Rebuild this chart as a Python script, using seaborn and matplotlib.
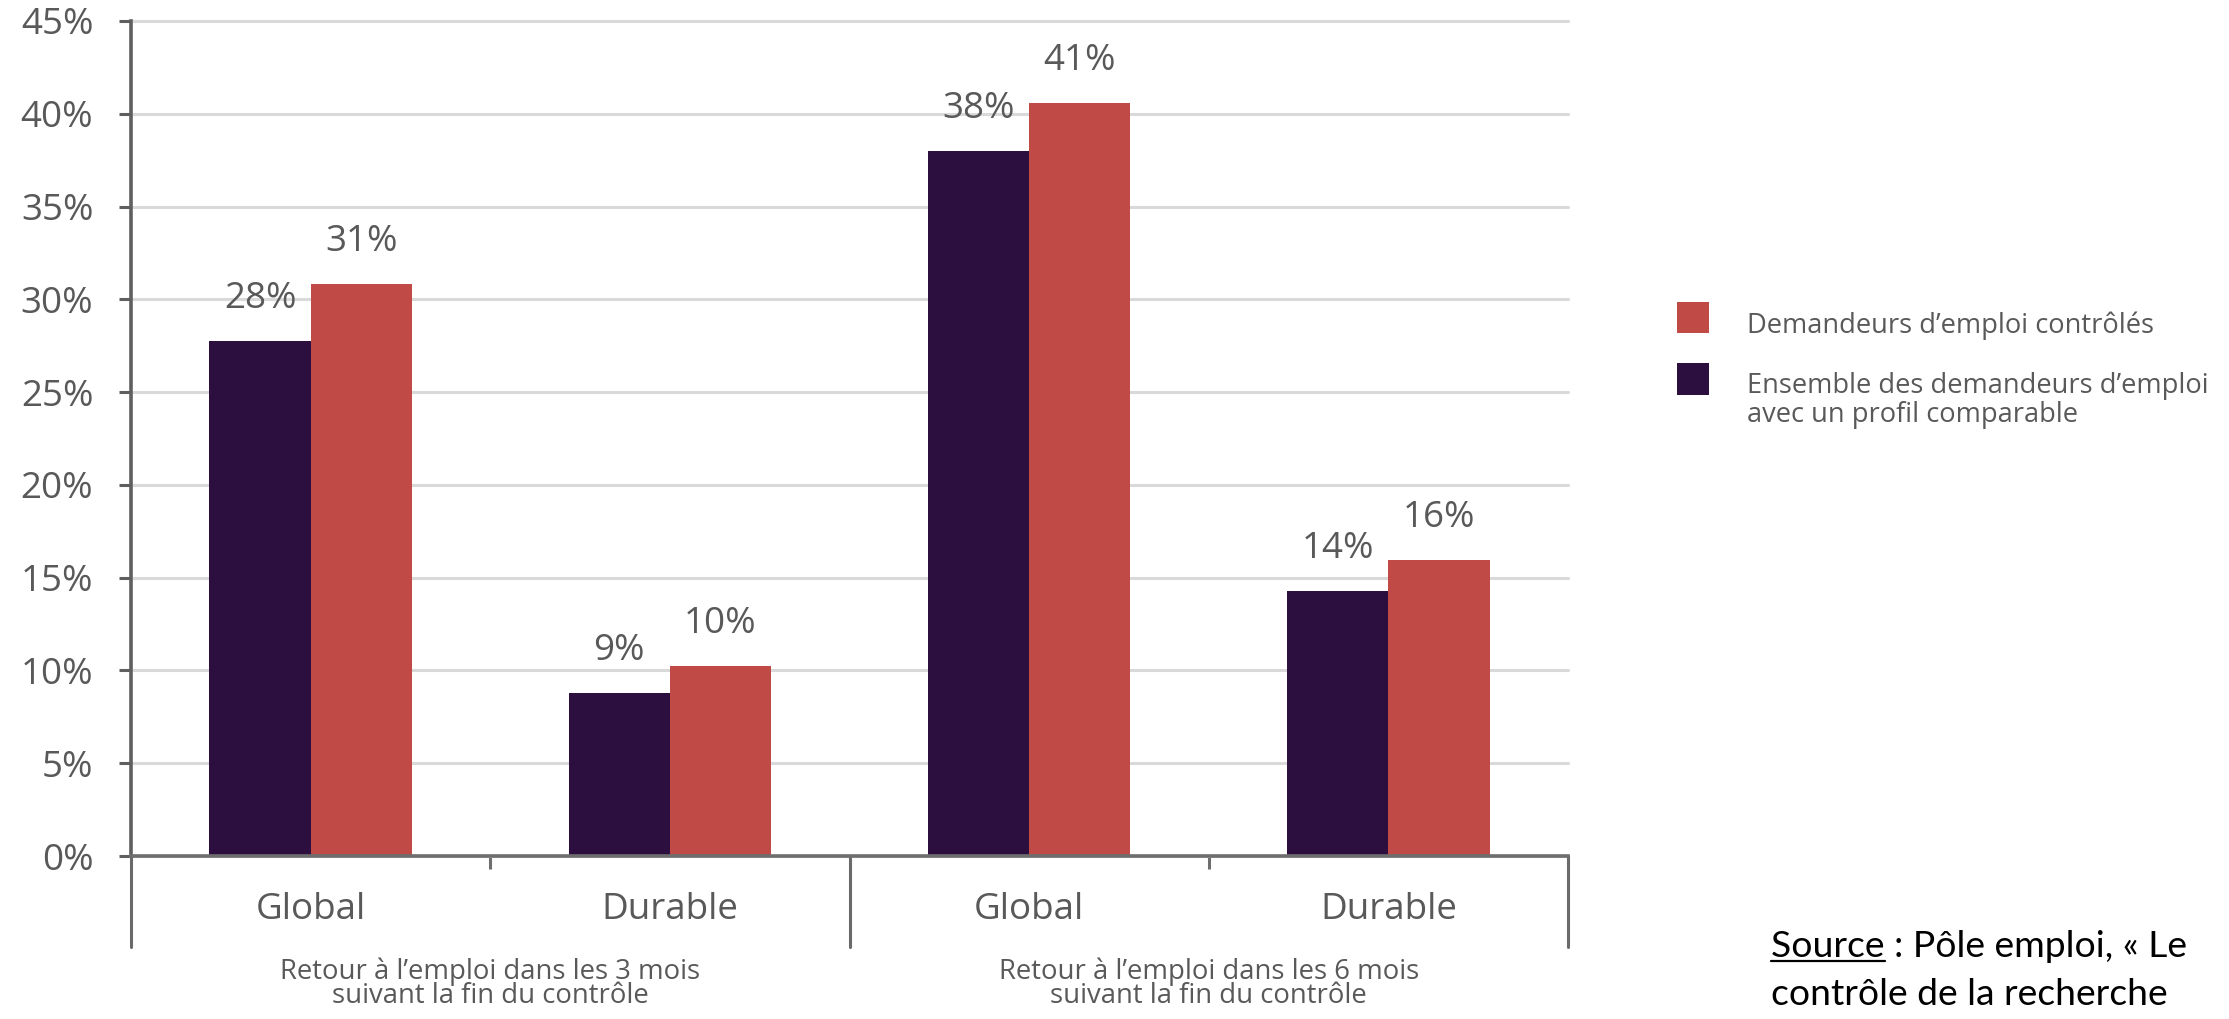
import matplotlib
matplotlib.use("Agg")
import matplotlib.pyplot as plt
from matplotlib.patches import Rectangle
from matplotlib.lines import Line2D
import seaborn as sns
import pandas as pd

# ---- data ----
categories = ["Global (3 mois)", "Durable (3 mois)", "Global (6 mois)", "Durable (6 mois)"]
tick_labels = ["Global", "Durable", "Global", "Durable"]
series_names = ["Ensemble des demandeurs d\u2019emploi avec un profil comparable",
                "Demandeurs d\u2019emploi contr\u00f4l\u00e9s"]
ensemble_values = [27.75, 8.8, 38.0, 14.3]
controles_values = [30.85, 10.25, 40.6, 15.95]
group_labels = ["Retour \u00e0 l\u2019emploi dans les 3 mois", "Retour \u00e0 l\u2019emploi dans les 6 mois"]
group_sublabel = "suivant la fin du contr\u00f4le"
group_centers = [0.5, 2.5]
y_ticks = [0, 5, 10, 15, 20, 25, 30, 35, 40, 45]

DARK = "#2c0f3e"
RED = "#c04a46"
GRAY = "#595959"

df = pd.DataFrame({
    "categorie": categories * 2,
    "serie": [series_names[0]] * 4 + [series_names[1]] * 4,
    "valeur": ensemble_values + controles_values,
})

sns.set_theme(style="white")
plt.rcParams["font.family"] = ["Open Sans", "DejaVu Sans"]

W, H = 2229, 1019
fig = plt.figure(figsize=(W / 100, H / 100), dpi=100)
fig.patch.set_facecolor("white")

def fx(px):
    return px / W

def fy(py):
    return 1 - py / H

ax = fig.add_axes([fx(131), fy(856), fx(1568) - fx(131), fy(21) - fy(856)])

sns.barplot(data=df, x="categorie", y="valeur", hue="serie",
            order=categories, hue_order=series_names,
            palette=[DARK, RED], width=0.563, saturation=1,
            linewidth=0, errorbar=None, legend=False, ax=ax)

ax.set_xlim(-0.5, 3.5)
ax.set_ylim(0, 45)
ax.set_xlabel("")
ax.set_ylabel("")

for s in ["top", "right"]:
    ax.spines[s].set_visible(False)
ax.spines["left"].set_color("#5f5f5f")
ax.spines["left"].set_linewidth(2.6)
ax.spines["bottom"].set_color("#6e6e6e")
ax.spines["bottom"].set_linewidth(2.6)

ax.set_yticks(y_ticks)
ax.set_yticklabels([f"{v}%" for v in y_ticks])
ax.tick_params(axis="y", which="major", left=True, length=8.6, width=2.2,
               color="#5f5f5f", pad=18.5, labelsize=26.5, labelcolor=GRAY,
               direction="out")

ax.set_xticks(range(len(categories)))
ax.set_xticklabels(tick_labels)
ax.tick_params(axis="x", which="major", bottom=False, length=0, pad=26,
               labelsize=26.5, labelcolor=GRAY)
ax.set_xticks([0.5, 2.5], minor=True)
ax.tick_params(axis="x", which="minor", bottom=True, length=9.4, width=2.2,
               color="#6e6e6e", direction="out")

ax.yaxis.grid(True, color="#d9d9d9", linewidth=2.2)
ax.xaxis.grid(False)
ax.set_axisbelow(True)
for gl in ax.get_ygridlines():
    gl.set_clip_on(False)

# group separators
for xv in [-0.5, 1.5, 3.5]:
    ax.axvline(xv, ymin=-0.109, ymax=0, clip_on=False, color="#6a6a6a", lw=2.2)

# bar value labels
for cont in ax.containers:
    ax.bar_label(cont, fmt="{:.0f}%", padding=17, fontsize=26.5, color=GRAY)

# group labels
for xc, lab in zip(group_centers, group_labels):
    xfig = fig.transFigure.inverted().transform(ax.transData.transform((xc, 0)))[0]
    fig.text(xfig, fy(979), lab, ha="center", va="baseline", fontsize=19.8, color=GRAY)
    fig.text(xfig, fy(1003), group_sublabel, ha="center", va="baseline", fontsize=19.8, color=GRAY)

# legend (manual, squares aligned with first text line)
fig.patches.append(Rectangle((fx(1677), fy(333)), fx(32), 31 / H, transform=fig.transFigure,
                             facecolor=RED, edgecolor="none"))
fig.patches.append(Rectangle((fx(1677), fy(395)), fx(32), 32 / H, transform=fig.transFigure,
                             facecolor=DARK, edgecolor="none"))
fig.text(fx(1747), fy(333), series_names[1], ha="left", va="baseline", fontsize=19.6, color=GRAY)
fig.text(fx(1747), fy(393), "Ensemble des demandeurs d\u2019emploi", ha="left", va="baseline",
         fontsize=19.6, color=GRAY)
fig.text(fx(1747), fy(422), "avec un profil comparable", ha="left", va="baseline",
         fontsize=19.6, color=GRAY)

# source note
src_font = ["Lato", "DejaVu Sans"]
fig.text(fx(1771), fy(957), "Source : P\u00f4le emploi, \u00ab Le", ha="left", va="baseline",
         fontsize=26.8, color="black", family=src_font)
fig.text(fx(1771), fy(1005), "contr\u00f4le de la recherche", ha="left", va="baseline",
         fontsize=26.8, color="black", family=src_font)
tmp = fig.text(fx(1771), fy(957), "Source", ha="left", va="baseline",
               fontsize=26.8, color="black", family=src_font)
renderer = fig.canvas.get_renderer()
bb = tmp.get_window_extent(renderer)
tmp.remove()
uy = fy(961)
fig.lines.append(Line2D([bb.x0 / W, bb.x1 / W], [uy, uy], transform=fig.transFigure,
                        color="black", lw=1.6))

fig.savefig("out.png", dpi=100, facecolor="white")
